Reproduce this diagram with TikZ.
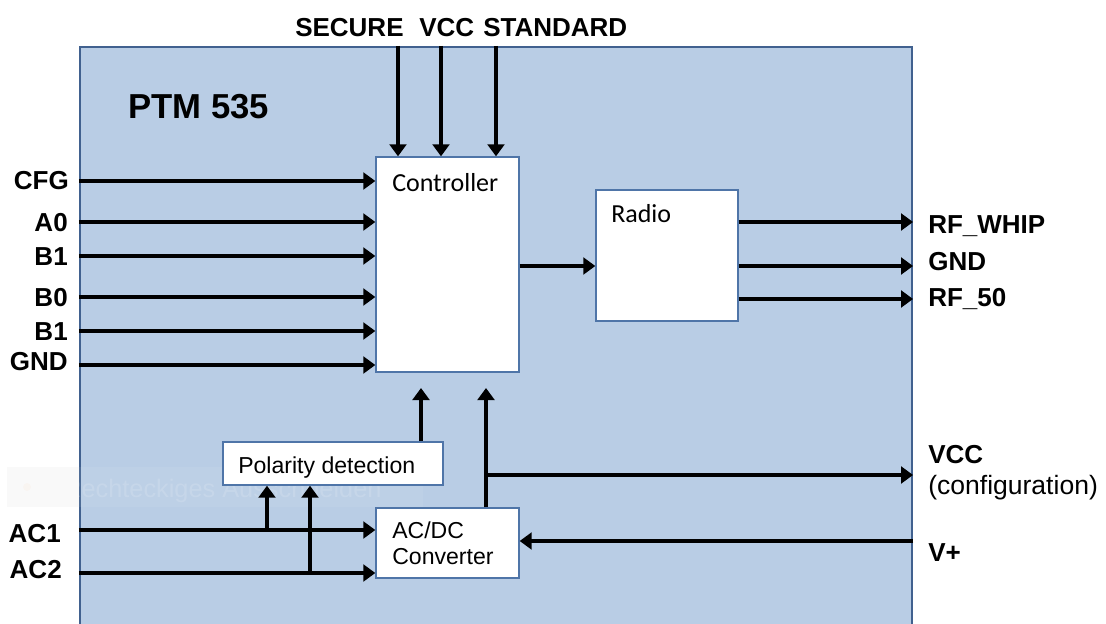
\documentclass[tikz,border=0pt]{standalone}
\usepackage{fontspec}
\setmainfont{Liberation Sans}
\newfontfamily\calib{Carlito}
\usetikzlibrary{arrows.meta,fit}
\definecolor{boxfill}{HTML}{B9CDE5}
\definecolor{boxedge}{HTML}{41618F}
\definecolor{inedge}{HTML}{4F75A8}
\begin{document}
\begin{tikzpicture}[x=0.75pt,y=-0.75pt,
  wire/.style={line width=2.3pt},
  arr/.style={line width=2.3pt,-{Triangle[length=9pt,width=12.5pt]}},
  blk/.style={draw=inedge,line width=1pt,fill=white,inner sep=0pt},
  lbl/.style={font=\bfseries\fontsize{19.5}{22}\selectfont,inner sep=0pt},
  lblr/.style={lbl,anchor=base east},
  lbll/.style={lbl,anchor=base west},
  cal/.style={font=\calib\fontsize{19.5}{22}\selectfont,inner sep=0pt,anchor=base west},
  ari/.style={font=\fontsize{17.3}{20}\selectfont,inner sep=0pt,anchor=base west}]
\clip (0,0) rectangle (1106,624);
\fill[white] (0,0) rectangle (1106,624);
% outer module
\node[fit={(80,47) (912,660)},inner sep=0pt,draw=boxedge,line width=1.6pt,fill=boxfill] (outer) {};
% faint ghost tooltip
\node[fit={(7,467) (423,507)},inner sep=0pt,fill=white,fill opacity=0.07] (ghost) {};
\node[fit={(7,467) (79,507)},inner sep=0pt,fill=black,fill opacity=0.025] (ghostleft) {};
\node[circle,inner sep=0pt,minimum size=6pt,fill=orange,fill opacity=0.03] (ghosticon) at (27,487) {};
\node[font=\fontsize{19}{22}\selectfont,text=white,text opacity=0.14,inner sep=0pt,anchor=base west] (ghosttext) at (63,497) {Rechteckiges Ausschneiden};
% title
\node[font=\bfseries\fontsize{26}{30}\selectfont,inner sep=0pt,anchor=base west] (title) at (128,119) {PTM 535};
% blocks
\node[blk,fit={(376,157) (519,372)}] (ctrl) {};
\node[cal] (ctrltxt) at (392,191) {Controller};
\node[blk,fit={(596,190) (738,321)}] (radio) {};
\node[cal] (radiotxt) at (611,222) {Radio};
\node[blk,fit={(223,442) (443,485)}] (pol) {};
\node[ari] (poltxt) at (238,473) {Polarity detection};
\node[blk,fit={(376,508) (519,578)}] (acdc) {};
\node[ari] (acdctxt1) at (392,538) {AC/DC};
\node[ari] (acdctxt2) at (392,564) {Converter};
% top labels
\node[lbll] (secure) at (295,37) {SECURE};
\node[lbll] (vcctop) at (419,37) {VCC};
\node[lbll] (standard) at (483,37) {STANDARD};
\draw[arr] (outer.north -| 398,0) -- (ctrl.north -| 398,0);
\draw[arr] (outer.north -| 441,0) -- (ctrl.north -| 441,0);
\draw[arr] (outer.north -| 496,0) -- (ctrl.north -| 496,0);
% left labels
\node[lblr] (cfg) at (69,190) {CFG};
\node[lblr] (a0) at (68,231) {A0};
\node[lblr] (b1a) at (68,265) {B1};
\node[lblr] (b0) at (68,306) {B0};
\node[lblr] (b1b) at (68,340) {B1};
\node[lblr] (gndl) at (68,370) {GND};
\node[lblr] (ac1) at (61,542) {AC1};
\node[lblr] (ac2) at (62,578) {AC2};
\foreach \yy in {181,222,256,297,331,365}
  \draw[arr] (outer.west |- 0,\yy) -- (ctrl.west |- 0,\yy);
% controller -> radio
\draw[arr] (ctrl.east |- 0,266) -- (radio.west |- 0,266);
% radio outputs
\foreach \yy in {222,266,299}
  \draw[arr] (radio.east |- 0,\yy) -- (outer.east |- 0,\yy);
\node[lbll] (rfwhip) at (928,233) {RF\_WHIP};
\node[lbll] (gndr) at (928,270) {GND};
\node[lbll] (rf50) at (928,306) {RF\_50};
% lower section
\coordinate (tp1) at (421,388);
\coordinate (tp2) at (486,388);
\coordinate (vj) at (486,475);
\draw[arr] (pol.north -| tp1) -- (tp1);
\draw[arr] (acdc.north -| tp2) -- (tp2);
\draw[arr] (vj) -- (outer.east |- vj);
\node[lbll] (vccr) at (928,463) {VCC};
\node[font=\fontsize{19.9}{22}\selectfont,inner sep=0pt,anchor=base west] (conf) at (928,494) {(configuration)};
\draw[arr] (outer.east |- 0,541) -- (acdc.east |- 0,541);
\node[lbll] (vplus) at (928,561) {V+};
\draw[arr] (outer.west |- 0,530) -- (acdc.west |- 0,530);
\draw[arr] (outer.west |- 0,573) -- (acdc.west |- 0,573);
\coordinate (j1) at (267,530);
\coordinate (j2) at (310,573);
\draw[arr] (j1) -- (pol.south -| j1);
\draw[arr] (j2) -- (pol.south -| j2);
\end{tikzpicture}
\end{document}
